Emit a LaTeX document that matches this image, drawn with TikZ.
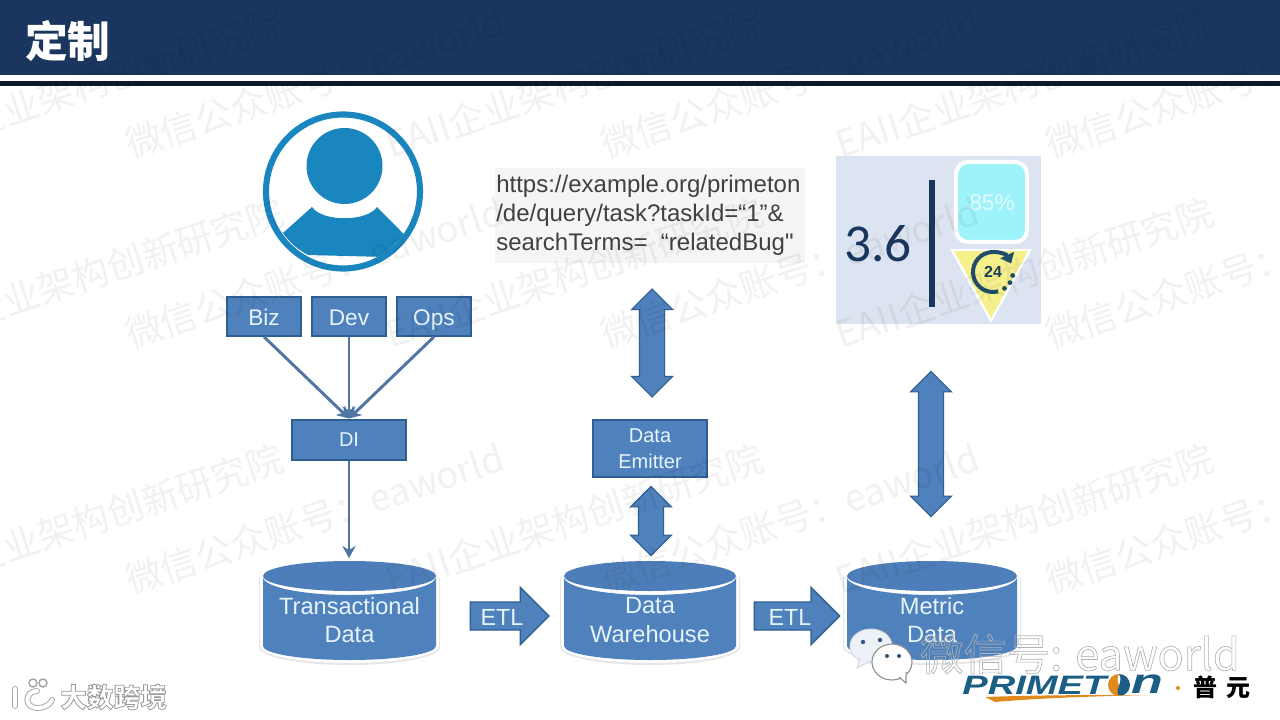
\documentclass[tikz,border=0pt]{standalone}
\usepackage{fontspec}
\setmainfont{Liberation Sans}
\newfontfamily\urlf{Liberation Sans}
\newfontfamily\cjk{Noto Sans CJK SC}
\newfontfamily\cali{Carlito}
\usetikzlibrary{shapes.arrows,arrows.meta,shapes.geometric}
\definecolor{hdr}{HTML}{1A365F}
\definecolor{hdrb}{HTML}{0C1A2B}
\definecolor{blu}{HTML}{4F81BD}
\definecolor{blud}{HTML}{2F5F92}
\definecolor{conn}{HTML}{4F76A3}
\definecolor{lbl}{HTML}{E6F4FA}
\definecolor{ava}{HTML}{1A86BF}
\definecolor{wm}{HTML}{000000}
\definecolor{panel}{HTML}{DDE4F1}
\definecolor{cyan}{HTML}{9EF3FB}
\definecolor{yel}{HTML}{F5F08C}
\definecolor{clk}{HTML}{1F4E6B}
\definecolor{clkt}{HTML}{1F3D5A}
\definecolor{prim}{HTML}{1B5E85}
\definecolor{org}{HTML}{E08A1E}
\newcommand{\outl}[1]{\special{pdf:code 1 Tr #1 w}}
\newcommand{\unoutl}{\special{pdf:code 0 Tr}}
\tikzset{
  box/.style={draw=blud,line width=1.5pt,fill=blu,text=lbl,inner sep=0pt,align=center},
  tagbox/.style={box,minimum width=56pt,minimum height=29pt,font=\fontsize{17}{20}\selectfont,text height=15pt,text depth=1pt},
  conline/.style={draw=conn,line width=2.2pt,-{Stealth[length=9pt,width=10pt]}},
  dbl/.style={double arrow,draw=blud,line width=0.8pt,fill=blu,rotate=90,inner xsep=0pt,inner ysep=9pt,
    minimum width=30pt,double arrow head extend=6pt,minimum height=#1},
  etl/.style={single arrow,draw=blud,line width=1pt,fill=blu,inner xsep=0pt,inner ysep=10pt,
    minimum width=43pt,single arrow head extend=11pt,minimum height=#1},
  lab/.style={text=lbl,align=center,inner sep=0pt},
  wmark/.style={rotate=18.4,text=wm,opacity=0.055,anchor=south west,inner sep=0pt,font=\cjk\fontsize{27.5}{30}\selectfont}
}
\newcommand{\dbcyl}[5]{% xl xr name line1 line2
  \pgfmathsetmacro{\cxx}{(#1+#2)/2}
  \pgfmathsetmacro{\rxx}{(#2-#1)/2}
  \fill[black!10] (#1-4,577) -- (#1-4,647) arc[start angle=180,end angle=0,x radius=\rxx+4,y radius=18] -- (#2+4,577) -- cycle;
  \fill[white] (#1-3,575) -- (#1-3,646) arc[start angle=180,end angle=0,x radius=\rxx+3,y radius=17] -- (#2+3,575) arc[start angle=0,end angle=-180,x radius=\rxx+3,y radius=15] -- cycle;
  \fill[blu] (#1,577) -- (#1,646) arc[start angle=180,end angle=0,x radius=\rxx,y radius=14] -- (#2,577) arc[start angle=0,end angle=180,x radius=\rxx,y radius=18] -- cycle;
  \fill[white] (#1,575) arc[start angle=180,end angle=0,x radius=\rxx,y radius=19] -- (#2,575) -- cycle;
  \fill[blu!98!black] (\cxx,576) ellipse[x radius=\rxx,y radius=15];
  \node[lab,font=\fontsize{17.7}{21.5}\selectfont] (#3) at (\cxx,620) {#4\\#5};
}
\begin{document}
\begin{tikzpicture}[x=0.75pt,y=-0.75pt]
\useasboundingbox (0,0) rectangle (1280,720);
\fill[white] (0,0) rectangle (1280,720);
% header
\fill[hdr] (0,0) rectangle (1280,75);
\fill[hdrb] (0,81) rectangle (1280,86);
\node[text=white,font=\cjk\bfseries\fontsize{32}{34}\selectfont,anchor=west,inner sep=0pt] (title) at (25,41) {定制};
% avatar
\draw[ava,line width=4.6pt] (343,191.5) circle[radius=77];
\fill[ava] (283,233) -- (312,207) .. controls (322,222) and (367,222) .. (377,207) -- (403.6,233.9) arc[start angle=35,end angle=62,radius=74] -- (308,255) arc[start angle=118,end angle=145,radius=74] -- cycle;
\fill[ava] (344.5,166) circle[radius=38];
% boxes
\node[tagbox] (biz) at (264,316.5) {Biz};
\node[tagbox] (dev) at (349,316.5) {Dev};
\node[tagbox] (ops) at (434,316.5) {Ops};
\node[box,minimum width=85pt,minimum height=30pt,font=\fontsize{15}{18}\selectfont] (di) at (349,439.5) {DI};
\node[box,minimum width=85pt,minimum height=43pt,font=\fontsize{15}{19.5}\selectfont] (emit) at (650,448.5) {Data\\Emitter};
% cylinders
\dbcyl{263}{436}{td}{Transactional}{Data}
\dbcyl{564}{736}{dw}{Data}{Warehouse}
\dbcyl{847}{1017}{md}{Metric}{Data}
% connectors
\draw[conline] (biz.south) -- (di.north);
\draw[conline] (dev.south) -- (di.north);
\draw[conline] (ops.south) -- (di.north);
\coordinate (tdtop) at (349,558);
\draw[conline] (di.south) -- (tdtop);
% URL
\fill[black!4] (495,168) rectangle (805,263);
\node[anchor=north west,align=left,inner sep=0pt,text=black!75,font=\urlf\fontsize{18}{21.8}\selectfont] (url) at (496,174.5) {https://example.org/primeton\\/de/query/task?taskId=“1”\&\\searchTerms=\ \ “relatedBug"};
% double arrows
\node[dbl=81pt] (a1) at (652,343) {};
\node[dbl=52pt] (a2) at (651,521) {};
\node[dbl=109pt] (a3) at (931,444) {};
% ETL
\node[etl=59pt] (e1) at (502.5,616) {};
\node[lab,font=\fontsize{17.5}{20}\selectfont] (e1l) at (502,617) {ETL};
\node[etl=64pt] (e2) at (790,616) {};
\node[lab,font=\fontsize{17.5}{20}\selectfont] (e2l) at (790,617) {ETL};
% dashboard panel
\fill[panel] (836,156) rectangle (1041,324);
\node[text=hdr,font=\cali\fontsize{40}{42}\selectfont,inner sep=0pt] (val) at (878,244) {3.6};
\fill[hdr] (929,180) rectangle (935,307);
\draw[white,line width=3pt,fill=cyan,rounded corners=9pt] (956,162) rectangle (1027,242);
\node[text=white!70!cyan,font=\fontsize{17}{20}\selectfont,inner sep=0pt] (pct) at (992,203) {85\%};
\fill[white] (950,249) -- (1032,249) -- (991,323) -- cycle;
\fill[yel] (954,251) -- (1028,251) -- (991,318) -- cycle;
\draw[clk,line width=3pt,-{Triangle[length=7pt,width=11pt]}] (993,272) ++(75:20) arc[start angle=75,end angle=335,radius=20];
\foreach \a in {10,32,55}{\fill[clk] (993,272) ++(\a:20) circle[radius=2.4];}
\node[text=clkt,font=\bfseries\fontsize{12}{13}\selectfont,inner sep=0pt] (h24) at (993,272) {24};
% watermarks
\foreach \x/\y [count=\i] in {132/162,607/162,1052/162,132/352,607/352,1052/352,132/598,607/598,1052/598}{
  \node[wmark] (wa\i) at (\x,\y) {微信公众账号：eaworld};}
\foreach \x/\y [count=\i] in {-88/162,392/162,842/162,-88/352,392/352,842/352,-88/598,392/598,842/598}{
  \node[wmark] (wb\i) at (\x,\y) {EAII企业架构创新研究院};}
\fill[white] (0,75) rectangle (1280,81);
% wechat logo
\draw[black!15,fill=white!90!blu,line width=.7pt] (871,646) ellipse[x radius=21,y radius=17];
\draw[black!15,fill=white!90!blu,line width=.7pt] (860,658) -- (857,668) -- (871,661);
\fill[blu!70!black] (863,642) circle[radius=2.2] (880,640) circle[radius=2.2];
\draw[black!45,fill=white,line width=.8pt] (892,662) ellipse[x radius=20,y radius=18];
\draw[black!45,fill=white,line width=.8pt] (899,677) -- (906,683) -- (906,672);
\fill[white] (896,676) -- (906,675) -- (903,668) -- cycle;
\fill[blu!60!black] (887,656) circle[radius=2] (899,656) circle[radius=2];
% footer watermark
\node[text=black!30,font=\cjk\fontsize{32.5}{34}\selectfont,anchor=west,inner sep=0pt] (wx) at (920,654) {\outl{0.5}微信号: eaworld\unoutl};
% primeton logo
\node[text=prim,font=\bfseries\itshape\fontsize{20}{21}\selectfont,anchor=west,inner sep=0pt,xscale=1.43] (prim) at (962,685) {PRIMET};
\fill[org] (1119,674) arc[start angle=270,end angle=90,radius=11] .. controls (1124,690) and (1114,682) .. (1119,674);
\fill[prim] (1119,674) arc[start angle=-90,end angle=90,radius=11] .. controls (1114,690) and (1124,682) .. (1119,674);
\node[text=prim,font=\bfseries\itshape\fontsize{20}{21}\selectfont,anchor=west,inner sep=0pt,xscale=1.95,yscale=1.3] (primn) at (1131,684) {n};
\fill[org] (985,697) .. controls (1040,695) and (1090,695) .. (1148,695) .. controls (1090,696.5) and (1040,698) .. (995,702) -- cycle;
\fill[org] (1178,688) circle[radius=2];
\node[text=black,font=\cjk\bfseries\fontsize{18}{20}\selectfont,anchor=west,inner sep=0pt] (py) at (1193,687) {普\hspace{7pt}元};
% bottom-left logo
\draw[black!35,line width=.7pt,double=white,double distance=3pt,line cap=round] (15,689) -- (15,706);
\draw[black!35,line width=.7pt,double=white,double distance=3pt,line cap=round] (37,691) .. controls (25,691) and (23,708) .. (38,708) .. controls (44,708) and (50,705) .. (52,700);
\draw[black!35,line width=1.1pt] (33,683) circle[radius=4] (43,683) circle[radius=4];
\node[text=black!40,font=\cjk\bfseries\fontsize{20}{22}\selectfont,anchor=west,inner sep=0pt] (dskj) at (60,697) {\outl{0.6}大数跨境\unoutl};
\end{tikzpicture}
\end{document}
